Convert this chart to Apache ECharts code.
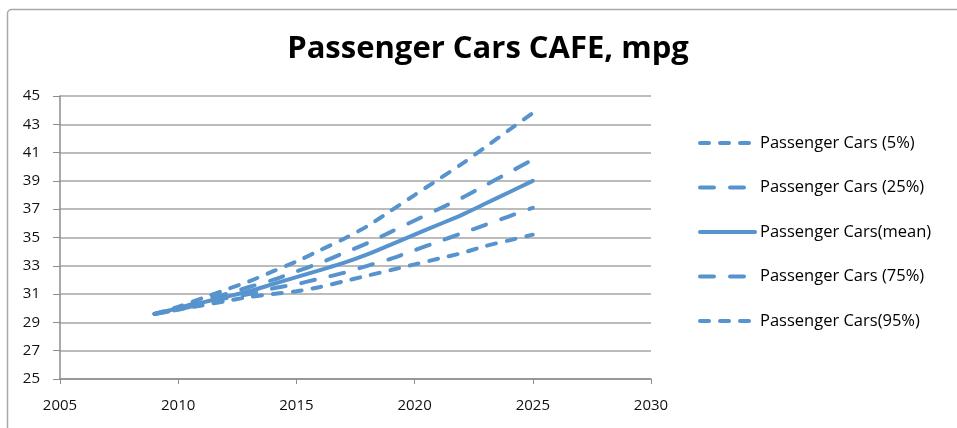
<!DOCTYPE html>
<html>
<head>
<meta charset="utf-8">
<script src="https://cdn.jsdelivr.net/npm/echarts@6/dist/echarts.min.js"></script>
<style>
html,body{margin:0;padding:0;background:#fff;}
#c{width:957px;height:428px;}
</style>
</head>
<body>
<div id="c"></div>
<script>
var years = [2009,2010,2011,2012,2013,2014,2015,2016,2017,2018,2019,2020,2021,2022,2023,2024,2025];
var p5    = [29.6,30.1,30.7,31.3,31.9,32.6,33.3,34.1,34.9,35.8,36.9,38.0,39.1,40.2,41.4,42.6,43.8];
var p25   = [29.6,30.0,30.5,31.0,31.5,32.0,32.6,33.2,33.9,34.6,35.4,36.2,37.0,37.8,38.7,39.6,40.5];
var pMean = [29.6,30.0,30.4,30.8,31.2,31.7,32.2,32.7,33.2,33.8,34.5,35.2,35.9,36.6,37.4,38.2,39.0];
var p75   = [29.6,29.9,30.3,30.7,31.0,31.4,31.7,32.1,32.5,33.0,33.5,34.1,34.7,35.3,35.9,36.5,37.1];
var p95   = [29.6,29.9,30.2,30.5,30.8,31.0,31.2,31.5,31.9,32.3,32.7,33.1,33.5,33.9,34.4,34.8,35.2];
var seriesNames = ['Passenger Cars (5%)','Passenger Cars (25%)','Passenger Cars(mean)','Passenger Cars (75%)','Passenger Cars(95%)'];
var titleText = 'Passenger Cars CAFE, mpg';

var color = '#5793cd';
var shortDash = [9, 11];
var longDash = [14, 16];
var dashes = [shortDash, longDash, 'solid', longDash, shortDash];
var allData = [p5, p25, pMean, p75, p95];

function pairs(arr){ return years.map(function(y,i){ return [y, arr[i]]; }); }

var font = '"Open Sans", "Liberation Sans", sans-serif';
var chart = echarts.init(document.getElementById('c'), null, {renderer:'canvas'});
chart.setOption({
  animation:false,
  backgroundColor:'#fff',
  graphic:[{type:'rect', shape:{x:7.5,y:9.5,width:1000,height:600,r:4}, style:{fill:'none', stroke:'#a8a8a8', lineWidth:1.5}, z:-1}],
  title:{text:titleText, left:483, top:29, textAlign:'center',
    textStyle:{fontFamily:'"Open Sans", sans-serif', fontSize:31, fontWeight:'bold', color:'#000'}},
  grid:{left:60, right:306, top:96, bottom:49},
  legend:{orient:'vertical', left:693, top:129, itemGap:26.5, itemWidth:55, itemHeight:14,
    itemStyle:{opacity:0},
    lineStyle:{width:4, cap:'round'},
    textStyle:{fontFamily:font, fontSize:16.5, lineHeight:18, color:'#000'}, data:seriesNames},
  xAxis:{type:'value', min:2005, max:2030, interval:5,
    axisLine:{lineStyle:{color:'#8c8c8c', width:1.5}},
    axisTick:{show:true, length:5, lineStyle:{color:'#8c8c8c'}},
    axisLabel:{fontFamily:font, fontSize:15, color:'#111', margin:19, formatter:function(v){return String(v);}},
    splitLine:{show:false}},
  yAxis:{type:'value', min:25, max:45, interval:2,
    axisLine:{show:true, lineStyle:{color:'#8c8c8c', width:1.5}},
    axisTick:{show:true, length:7, inside:false, lineStyle:{color:'#8c8c8c'}},
    axisLabel:{fontFamily:font, fontSize:15, color:'#111', margin:20},
    splitLine:{lineStyle:{color:'#a6a6a6', width:1.5}}},
  series: allData.map(function(d,i){
    return {name:seriesNames[i], type:'line', data:pairs(d), symbol:'none', smooth:0.25,
      lineStyle:{color:color, width:4, type:dashes[i], cap:'round'},
      itemStyle:{color:color}};
  })
});
</script>
</body>
</html>
